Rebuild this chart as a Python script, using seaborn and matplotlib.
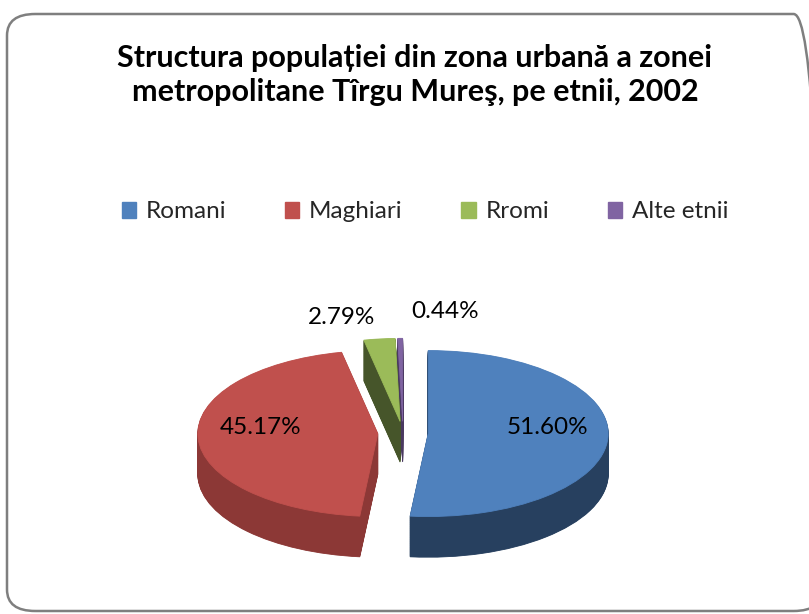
import matplotlib
matplotlib.use("Agg")
import matplotlib.pyplot as plt
from matplotlib.patches import FancyBboxPatch, Patch
import seaborn as sns

# data
etnii = ["Romani", "Maghiari", "Rromi", "Alte etnii"]
procente = [51.60, 45.17, 2.79, 0.44]
culori = ["#4F81BD", "#C0504D", "#9BBB59", "#8064A2"]
culori_lateral = ["#27405F", "#8C3836", "#46552A", "#4A3960"]
titlu = "Structura populației din zona urbană a zonei\nmetropolitane Tîrgu Mureş, pe etnii, 2002"

sns.set_theme(style="white")
plt.rcParams["font.family"] = ["Lato", "DejaVu Sans"]

fig = plt.figure(figsize=(8.09, 6.14), dpi=100)
fig.patch.set_facecolor("white")

# rounded chart border (right side runs off the picture like the original)
chenar = FancyBboxPatch((7 / 809, 1 - 611 / 614), (822 - 7) / 809, (611 - 14) / 614,
                        boxstyle="round,pad=0,rounding_size=0.035",
                        transform=fig.transFigure, facecolor="none",
                        edgecolor="#7F7F7F", linewidth=1.8, zorder=-1)
fig.patches.append(chenar)

# pie centre ~ (403, 433) px, rx 180 px, ry 83 px
ax = fig.add_axes([143 / 809, (614 - 590) / 614, 520 / 809, 290 / 614])
ax.patch.set_alpha(0)

explode = [0.14] * len(procente)
adancime = 0.49
straturi = 60

# side of the 3D pie: stacked copies shifted down
for i in range(straturi):
    dy = -adancime + adancime * i / straturi
    w_lat, _ = ax.pie(procente, colors=culori_lateral, explode=explode, startangle=90,
                      counterclock=False, center=(0, dy), radius=1,
                      wedgeprops=dict(linewidth=0.6, antialiased=True))
    for w, c in zip(w_lat, culori_lateral):
        w.set_edgecolor(c)

# top face
wedges, texte, pct = ax.pie(procente, colors=culori, explode=explode, startangle=90,
                            counterclock=False, center=(0, 0), radius=1,
                            autopct="%.2f%%", pctdistance=0.6,
                            wedgeprops=dict(linewidth=0.6, antialiased=True),
                            textprops=dict(fontsize=17.5, color="black"))
for w, c in zip(wedges, culori):
    w.set_edgecolor(c)

pozitii = [(0.80, 0.07), (-0.79, 0.07), (-0.34, 1.39), (0.235, 1.46)]
for t, p in zip(pct, pozitii):
    t.set_position(p)
    t.set_ha("center")
    t.set_va("center")

ax.set_aspect("auto")
ax.set_xlim(-1.4444, 1.4444)
ax.set_ylim(-1.892, 1.602)
ax.axis("off")

fig.text(415 / 809, 1 - 75 / 614, titlu, ha="center", va="center",
         fontsize=22, fontweight="bold", linespacing=1.25, color="black")

handles = [Patch(facecolor=c, edgecolor=c) for c in culori]
fig.legend(handles, etnii, loc="center", bbox_to_anchor=(425 / 809, 1 - 212 / 614),
           ncol=4, frameon=False, fontsize=17.5, handlelength=0.6, handleheight=0.6,
           handletextpad=0.4, columnspacing=2.4)

fig.savefig("out.png", dpi=100, facecolor="white")
